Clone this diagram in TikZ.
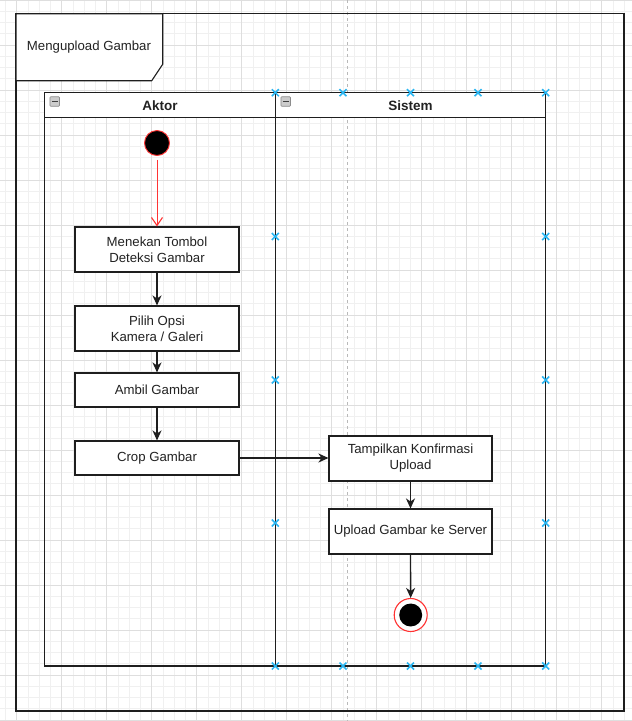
\documentclass[tikz,border=0pt]{standalone}
\usepackage{fontspec}
\setmainfont{Liberation Sans}
\usetikzlibrary{arrows.meta}
\definecolor{mkblue}{HTML}{29B6F2}
\definecolor{gridminor}{HTML}{F0F0F0}
\definecolor{gridmajor}{HTML}{DEDEDE}
\definecolor{linec}{HTML}{1E1E1E}
\definecolor{redc}{HTML}{FF3333}
\definecolor{txtc}{HTML}{222222}
\begin{document}
\begin{tikzpicture}[x=1pt,y=-1pt,
  act/.style={draw=linec, line width=1.1pt, fill=white, minimum width=164pt,
    minimum height=45pt, inner sep=0pt, align=center,
    font=\fontsize{13.2}{16}\selectfont, text=txtc},
  flow/.style={draw=linec, line width=1.3pt, -{Stealth[length=10pt,width=9pt,inset=3pt]}},
  redflow/.style={draw=redc, line width=1pt, -{Straight Barb[length=8pt,width=11pt,line width=1.1pt]}},
  boxline/.style={draw=linec, line width=1.1pt},
  hdr/.style={font=\bfseries\fontsize{13.5}{16}\selectfont, text=txtc},
  icon/.style={draw=gray!90, fill=gray!40, line width=0.6pt, minimum size=9.5pt, inner sep=0pt, rounded corners=0.8pt},
  mk/.pic={\draw[mkblue, line width=1.5pt] (-3.5,-3.5) -- (3.5,3.5) (-3.5,3.5) -- (3.5,-3.5);}
]
\useasboundingbox (0,0) rectangle (632,721);
\fill[white] (0,0) rectangle (632,721);
% grid
\foreach \i in {0,...,56} \draw[gridminor, line width=0.7pt] ({5.45+11.25*\i},0) -- ({5.45+11.25*\i},721);
\foreach \i in {0,...,64} \draw[gridminor, line width=0.7pt] (0,{11.25*\i}) -- (632,{11.25*\i});
\foreach \i in {0,...,14} \draw[gridmajor, line width=0.8pt] ({16.7+45*\i},0) -- ({16.7+45*\i},721);
\foreach \i in {0,...,16} \draw[gridmajor, line width=0.8pt] (0,{45*\i}) -- (632,{45*\i});
% page break line
\draw[gray!55, line width=0.8pt, dash pattern=on 3pt off 3pt] (347.3,0) -- (347.3,721);
% outer frame
\coordinate (fA) at (16,13.7);
\coordinate (fB) at (624,711);
\draw[boxline] (fA) rectangle (fB);
\draw[boxline, fill=white] (16,13.7) -- (162.7,13.7) -- (162.7,64.3) -- (151.7,80.7) -- (16,80.7) -- cycle;
\node[font=\fontsize{13.2}{16}\selectfont, text=txtc] (flabel) at (89,47) {Mengupload Gambar};
% pool
\draw[boxline] (44.7,92.7) rectangle (545.7,666);
\draw[boxline] (275.3,92.7) -- (275.3,666);
\draw[boxline, fill=white] (44.7,92.7) rectangle (275.3,117.7);
\draw[boxline, fill=white] (275.3,92.7) rectangle (545.7,117.7);
\node[hdr] (h1) at (160,105.2) {Aktor};
\node[hdr] (h2) at (410.5,105.2) {Sistem};
\node[icon] (ic1) at (54.7,101.5) {};
\draw[black!75, line width=1.4pt] ([xshift=-2.8pt]ic1.center) -- ([xshift=2.8pt]ic1.center);
\node[icon] (ic2) at (285.7,101.5) {};
\draw[black!75, line width=1.4pt] ([xshift=-2.8pt]ic2.center) -- ([xshift=2.8pt]ic2.center);
% nodes
\node[circle, draw=redc, fill=black, line width=0.9pt, minimum size=25pt, inner sep=0pt] (st) at (157,143) {};
\node[act] (a1) at (157,249.5) {Menekan Tombol\\Deteksi Gambar};
\node[act] (a2) at (157,328.5) {Pilih Opsi\\Kamera / Galeri};
\node[act, minimum height=34pt] (a3) at (157,390) {Ambil Gambar};
\node[act, minimum height=34pt] (a4) at (157,458) {Crop Gambar};
\node[act, minimum width=163pt] (s1) at (410.5,458.5) {Tampilkan Konfirmasi\\Upload};
\node[act, minimum width=163pt] (s2) at (410.5,531.5) {Upload Gambar ke Server};
\node[circle, draw=redc, fill=white, line width=1.1pt, minimum size=33pt, inner sep=0pt] (en) at (410.7,615) {};
\node[circle, fill=black, minimum size=23pt, inner sep=0pt] (enin) at (en.center) {};
% edges
\draw[redflow, shorten <=4pt] (st) -- (a1);
\draw[flow] (a1) -- (a2);
\draw[flow] (a2) -- (a3);
\draw[flow] (a3) -- (a4);
\draw[flow] (a4.east) -- (a4.east -| s1.west);
\draw[flow] (s1) -- (s2);
\draw[flow] (s2) -- (en);
% selection markers
\foreach \x in {275.3,343,410.5,478,545.7} {
  \pic at (\x,92.7) {mk};
  \pic at (\x,666) {mk};
}
\foreach \y in {236.5,380,523} {
  \pic at (275.3,\y) {mk};
  \pic at (545.7,\y) {mk};
}
\end{tikzpicture}
\end{document}
